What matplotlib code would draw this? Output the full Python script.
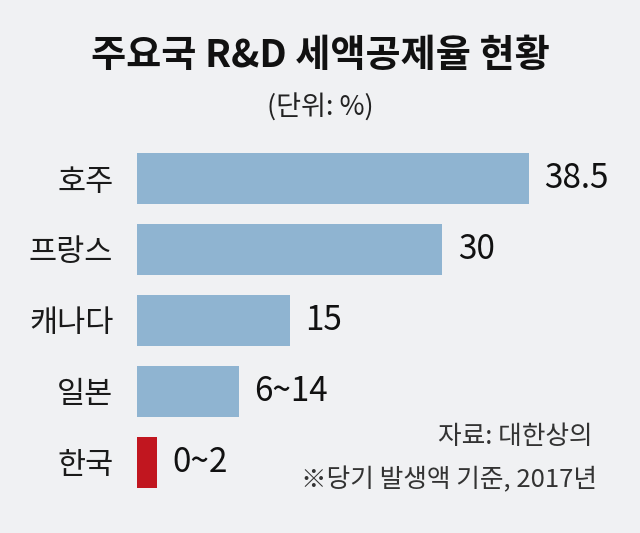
import matplotlib
matplotlib.use("Agg")
import matplotlib.pyplot as plt
from matplotlib import font_manager

# data
countries = ['호주', '프랑스', '캐나다', '일본', '한국']
rates = [38.5, 30, 15, 10, 2]          # bar length (6~14 drawn at its midpoint)
rate_labels = ['38.5', '30', '15', '6~14', '0~2']
bar_colors = ['#8fb4d1', '#8fb4d1', '#8fb4d1', '#8fb4d1', '#c1161f']

title = '주요국 R&D 세액공제율 현황'
unit = '(단위: %)'
source = '자료: 대한상의'
footnote = '※당기 발생액 기준, 2017년'

KR = 'Noto Sans CJK KR'
names = {f.name for f in font_manager.fontManager.ttflist}
NUM = 'Liberation Sans Narrow' if 'Liberation Sans Narrow' in names else KR

bg = '#f0f1f3'
fig = plt.figure(figsize=(6.4, 5.33), dpi=100, facecolor=bg)
ax = fig.add_axes([0.214, 0.0666, 0.786, 0.665])
ax.set_facecolor(bg)

ypos = list(range(len(countries)))
ax.barh(ypos, rates, height=0.72, color=bar_colors)
ax.set_xlim(0, 49.4)
ax.set_ylim(4.5, -0.5)

ax.set_yticks(ypos)
ax.set_yticklabels(countries, fontsize=22, family=[KR, 'DejaVu Sans'], color='#1a1a1a')
ax.tick_params(axis='y', length=0, pad=17)
ax.set_xticks([])
for s in ax.spines.values():
    s.set_visible(False)

for y, v, lab in zip(ypos, rates, rate_labels):
    ax.annotate(lab, (v, y), xytext=(11, 0), textcoords='offset points',
                va='center', ha='left', fontsize=24, family=[NUM, KR],
                color='#111111')

fig.text(0.5, 1 - 56 / 533, title, ha='center', va='center', fontsize=27.5,
         fontweight='bold', family=[KR, 'DejaVu Sans'], color='#111111')
fig.text(0.5, 1 - 108 / 533, unit, ha='center', va='center', fontsize=19.5,
         family=[KR, 'DejaVu Sans'], color='#222222')
fig.text(593 / 640, 1 - 437 / 533, source, ha='right', va='center', fontsize=18.5,
         family=[KR, 'DejaVu Sans'], color='#333333')
fig.text(597 / 640, 1 - 480 / 533, footnote, ha='right', va='center', fontsize=18.5,
         family=[KR, 'DejaVu Sans'], color='#333333')

fig.savefig('out.png', dpi=100, facecolor=bg)
